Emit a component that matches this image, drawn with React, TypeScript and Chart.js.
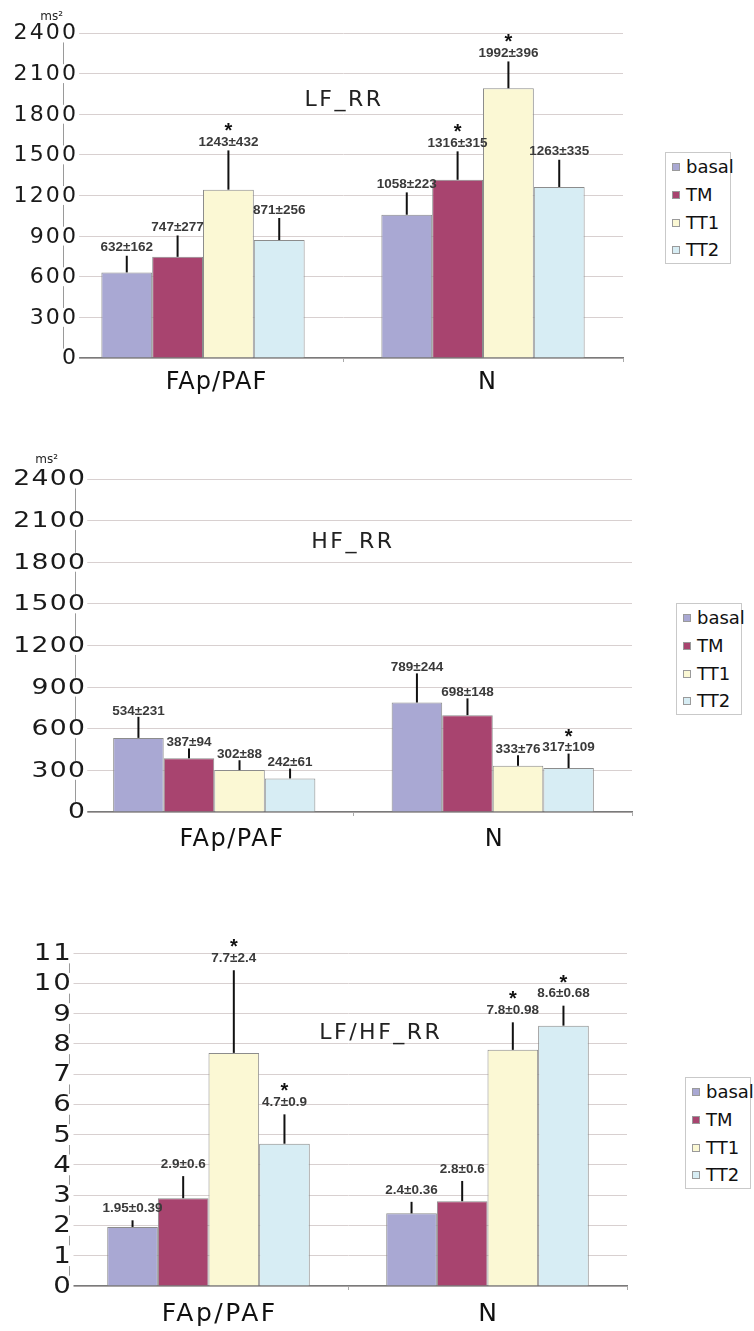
import React, { useEffect, useRef } from "react";
import { Chart, registerables } from "chart.js";

Chart.register(...registerables);

// ---------- data ----------
const categories = ["FAp/PAF", "N"];
const seriesNames = ["basal", "TM", "TT1", "TT2"];
const seriesColors = ["#a9a8d3", "#a8446f", "#fbf8d4", "#d7edf4"];

// LF_RR (ms²) — rows: basal, TM, TT1, TT2 ; columns: FAp/PAF, N
const lfMeans = [[632, 1058], [747, 1316], [1243, 1992], [871, 1263]];
const lfSds = [[162, 223], [277, 315], [432, 396], [256, 335]];
const lfErrTops = [[755, 1223], [905, 1526], [1533, 2190], [1034, 1464]];
const lfStars = [[false, false], [false, true], [true, true], [false, false]];

// HF_RR (ms²)
const hfMeans = [[534, 789], [387, 698], [302, 333], [242, 317]];
const hfSds = [[231, 244], [94, 148], [88, 76], [61, 109]];
const hfErrTops = [[686, 999], [458, 819], [373, 409], [313, 421]];
const hfStars = [[false, false], [false, false], [false, false], [false, true]];

// LF/HF_RR
const ratioMeans = [[1.95, 2.4], [2.9, 2.8], [7.7, 7.8], [4.7, 8.6]];
const ratioSds = [[0.39, 0.36], [0.6, 0.6], [2.4, 0.98], [0.9, 0.68]];
const ratioErrTops = [[2.17, 2.78], [3.63, 3.47], [10.43, 8.71], [5.67, 9.26]];
const ratioStars = [[false, false], [false, false], [true, true], [true, true]];

const msTicks = [0, 300, 600, 900, 1200, 1500, 1800, 2100, 2400];
const ratioTicks = [0, 1, 2, 3, 4, 5, 6, 7, 8, 9, 10, 11];

// ---------- plugins ----------
const annotPlugin = {
  id: "annot",
  beforeDatasetsDraw(chart: any, _a: any, o: any) {
    // y tick labels drawn from the library's y scale ticks
    const ctx = chart.ctx;
    const ys = chart.scales.y;
    ctx.save();
    ctx.letterSpacing = o.tickSpacing + "px";
    ctx.font = o.tickFont + 'px "DejaVu Sans"';
    ctx.textAlign = "right";
    ctx.textBaseline = "middle";
    ys.ticks.forEach((t: any) => {
      const label = String(t.value);
      const y = ys.getPixelForValue(t.value);
      const w = ctx.measureText(label).width * o.tickScaleX;
      const xr = o.tickRight + o.tickSpacing * o.tickScaleX;
      ctx.fillStyle = "#ffffff";
      ctx.fillRect(xr - w - 2, y - o.tickFont * 0.45, w + 3, o.tickFont * 0.9);
      ctx.fillStyle = "#1a1a1a";
      ctx.save();
      ctx.translate(xr, y + 1);
      ctx.scale(o.tickScaleX, 1);
      ctx.fillText(label, 0, 0);
      ctx.restore();
    });
    ctx.restore();
  },
  afterDatasetsDraw(chart: any, _a: any, o: any) {
    const ctx = chart.ctx;
    const ys = chart.scales.y;
    ctx.save();
    ctx.letterSpacing = "0px";
    o.means.forEach((row: number[], si: number) => {
      const meta = chart.getDatasetMeta(si);
      row.forEach((m: number, ci: number) => {
        const bar = meta.data[ci];
        const x = bar.x;
        const yTop = ys.getPixelForValue(o.errTops[si][ci]);
        ctx.strokeStyle = "#111";
        ctx.lineWidth = 2;
        ctx.beginPath();
        ctx.moveTo(x, bar.y);
        ctx.lineTo(x, yTop);
        ctx.stroke();
        const ly = yTop - o.labelGap;
        ctx.font = 'bold 13.5px "Liberation Sans"';
        ctx.fillStyle = "#3a3a3a";
        ctx.textAlign = "center";
        ctx.textBaseline = "middle";
        ctx.fillText(`${m}±${o.sds[si][ci]}`, x, ly);
        if (o.stars[si][ci]) {
          ctx.font = 'bold 20px "Liberation Sans"';
          ctx.fillStyle = "#111";
          ctx.textBaseline = "alphabetic";
          const mt = ctx.measureText("*");
          const off = (mt.actualBoundingBoxAscent - mt.actualBoundingBoxDescent) / 2;
          ctx.fillText("*", x, ly - 15 + off);
        }
      });
    });
    ctx.restore();
  },
  afterDraw(chart: any, _a: any, o: any) {
    const ctx = chart.ctx;
    const area = chart.chartArea;
    const xs = chart.scales.x;
    ctx.save();
    // title inside plot
    ctx.letterSpacing = "2.5px";
    ctx.font = '22px "DejaVu Sans"';
    ctx.fillStyle = "#222";
    ctx.textAlign = "center";
    ctx.textBaseline = "middle";
    ctx.fillText(
      o.title,
      area.left + o.titleRx * (area.right - area.left) + 1,
      area.top + o.titleRy * (area.bottom - area.top)
    );
    // unit label
    if (o.unit) {
      ctx.letterSpacing = "0px";
      ctx.font = '12px "DejaVu Sans"';
      ctx.textAlign = "right";
      ctx.fillText(o.unit, area.left - o.unitDx, area.top - o.unitDy);
    }
    // category labels
    ctx.letterSpacing = o.xSpacing + "px";
    ctx.font = o.xFont + 'px "DejaVu Sans"';
    ctx.fillStyle = "#111";
    ctx.textAlign = "center";
    categories.forEach((c, i) => {
      ctx.fillText(c, xs.getPixelForValue(i) + o.xShift[i] + o.xSpacing / 2, area.bottom + o.xDy);
    });
    ctx.restore();
  },
};

type Spec = {
  top: number;
  width: number;
  height: number;
  areaLeft: number;
  areaRight: number;
  areaTop: number;
  areaBottom: number;
  max: number;
  ticks: number[];
  tickFont: number;
  tickSpacing: number;
  tickScaleX: number;
  tickRight: number;
  means: number[][];
  sds: number[][];
  errTops: number[][];
  stars: boolean[][];
  labelGap: number;
  title: string;
  titleRx: number;
  titleRy: number;
  unit?: string;
  unitDx?: number;
  unitDy?: number;
  xFont: number;
  xSpacing: number;
  xShift: number[];
  xDy: number;
  legendLeft: number;
  legendTop: number;
};

const specs: Spec[] = [
  {
    top: 0, width: 640, height: 410,
    areaLeft: 63, areaRight: 623, areaTop: 33, areaBottom: 358,
    max: 2400, ticks: msTicks, tickFont: 21, tickSpacing: 2, tickScaleX: 1.05, tickRight: 76,
    means: lfMeans, sds: lfSds, errTops: lfErrTops, stars: lfStars, labelGap: 8,
    title: "LF_RR", titleRx: 0.5, titleRy: 0.206,
    unit: "ms²", unitDx: 0, unitDy: 16,
    xFont: 24, xSpacing: 1, xShift: [13, 4], xDy: 25,
    legendLeft: 665, legendTop: 152,
  },
  {
    top: 440, width: 645, height: 420,
    areaLeft: 75, areaRight: 632, areaTop: 479, areaBottom: 812,
    max: 2400, ticks: msTicks, tickFont: 21, tickSpacing: 1, tickScaleX: 1.27, tickRight: 85,
    means: hfMeans, sds: hfSds, errTops: hfErrTops, stars: hfStars, labelGap: 6,
    title: "HF_RR", titleRx: 0.497, titleRy: 0.19,
    unit: "ms²", unitDx: 17, unitDy: 19,
    xFont: 24, xSpacing: 1.5, xShift: [17, 1], xDy: 28,
    legendLeft: 676, legendTop: 603,
  },
  {
    top: 900, width: 640, height: 431,
    areaLeft: 69, areaRight: 627, areaTop: 953, areaBottom: 1286,
    max: 11, ticks: ratioTicks, tickFont: 23, tickSpacing: 1.5, tickScaleX: 1.2, tickRight: 70.7,
    means: ratioMeans, sds: ratioSds, errTops: ratioErrTops, stars: ratioStars, labelGap: 12,
    title: "LF/HF_RR", titleRx: 0.557, titleRy: 0.24,
    xFont: 25, xSpacing: 2.5, xShift: [10, 0], xDy: 28,
    legendLeft: 685, legendTop: 1077,
  },
];

function BarPanel({ spec }: { spec: Spec }) {
  const ref = useRef<HTMLCanvasElement | null>(null);
  useEffect(() => {
    if (!ref.current) return;
    const s = spec;
    const chart = new Chart(ref.current, {
      type: "bar",
      data: {
        labels: categories,
        datasets: seriesNames.map((n, i) => ({
          label: n,
          data: s.means[i],
          backgroundColor: seriesColors[i],
          borderColor: "#8c8c8c",
          borderWidth: 1,
          categoryPercentage: 0.726,
          barPercentage: 1,
        })),
      },
      options: {
        animation: false,
        responsive: false,
        devicePixelRatio: 1,
        events: [],
        layout: {
          padding: { top: s.areaTop - s.top, right: s.width - s.areaRight, left: 0, bottom: 0 },
        },
        plugins: {
          legend: { display: false },
          tooltip: { enabled: false },
          annot: {
            means: s.means, sds: s.sds, errTops: s.errTops, stars: s.stars, labelGap: s.labelGap,
            title: s.title, titleRx: s.titleRx, titleRy: s.titleRy,
            unit: s.unit, unitDx: s.unitDx, unitDy: s.unitDy,
            xFont: s.xFont, xSpacing: s.xSpacing, xShift: s.xShift, xDy: s.xDy,
            tickFont: s.tickFont, tickSpacing: s.tickSpacing, tickScaleX: s.tickScaleX, tickRight: s.tickRight,
          },
        } as any,
        scales: {
          x: {
            type: "category",
            offset: true,
            grid: {
              display: true,
              drawOnChartArea: false,
              drawTicks: true,
              tickLength: 4,
              color: "#aaaaaa",
              offset: true,
            },
            border: { display: true, color: "#7a7a7a", width: 1.5 },
            ticks: { display: false },
            afterFit: (sc: any) => {
              sc.height = s.top + s.height - s.areaBottom;
            },
          },
          y: {
            type: "linear",
            min: 0,
            max: s.max,
            grid: { color: "#d8d0d0", lineWidth: 1, drawTicks: false },
            border: { display: true, color: "#9a9a9a", width: 1 },
            afterBuildTicks: (sc: any) => {
              sc.ticks = s.ticks.map((v) => ({ value: v }));
            },
            ticks: { display: false, autoSkip: false },
            afterFit: (sc: any) => {
              sc.width = s.areaLeft;
            },
          },
        },
      },
      plugins: [annotPlugin],
    });
    return () => chart.destroy();
  }, [spec]);
  return (
    <>
      <canvas
        ref={ref}
        width={spec.width}
        height={spec.height}
        style={{ position: "absolute", left: 0, top: spec.top, width: spec.width, height: spec.height }}
      />
      <Legend left={spec.legendLeft} top={spec.legendTop} />
    </>
  );
}

function Legend({ left, top }: { left: number; top: number }) {
  return (
    <div
      style={{
        position: "absolute",
        left,
        top,
        width: 66,
        height: 112,
        border: "1px solid #c9c9c9",
        boxSizing: "border-box",
        background: "#fff",
      }}
    >
      {seriesNames.map((n, i) => (
        <div
          key={n}
          style={{
            position: "absolute",
            left: 6,
            top: 5 + i * 27.8,
            height: 18,
            display: "flex",
            alignItems: "center",
            whiteSpace: "nowrap",
          }}
        >
          <span
            style={{
              display: "inline-block",
              width: 8,
              height: 8,
              background: seriesColors[i],
              border: "1px solid #9a9a9a",
              boxSizing: "border-box",
              marginRight: 6,
            }}
          />
          <span style={{ font: '18px "DejaVu Sans"', color: "#111", lineHeight: "18px" }}>{n}</span>
        </div>
      ))}
    </div>
  );
}

export default function App() {
  return (
    <div
      style={{
        position: "absolute",
        left: 0,
        top: 0,
        width: 754,
        height: 1331,
        background: "#ffffff",
        overflow: "hidden",
      }}
    >
      {specs.map((s, i) => (
        <BarPanel key={i} spec={s} />
      ))}
    </div>
  );
}
